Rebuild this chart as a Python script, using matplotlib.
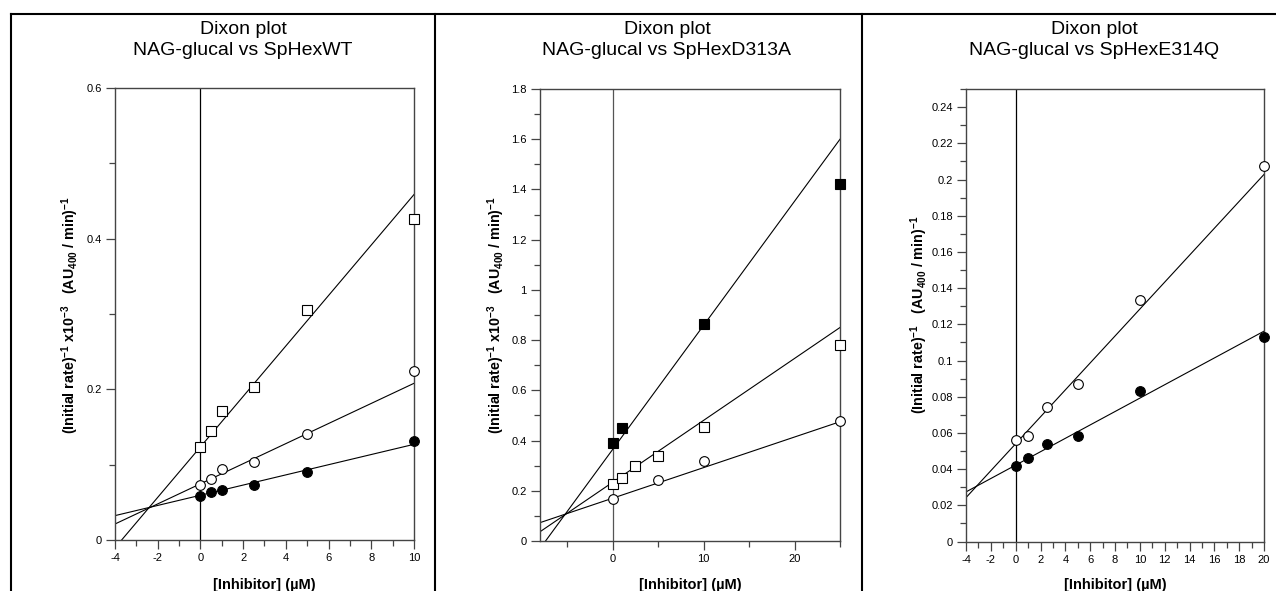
import numpy as np
import matplotlib
matplotlib.use("Agg")
import matplotlib.pyplot as plt
from matplotlib.ticker import MultipleLocator, FuncFormatter
from matplotlib.lines import Line2D

plt.rcParams['font.family'] = ['Liberation Sans', 'DejaVu Sans']
plt.rcParams['mathtext.fontset'] = 'custom'
plt.rcParams['mathtext.rm'] = 'Liberation Sans'
plt.rcParams['mathtext.bf'] = 'Liberation Sans:bold'

# --- Panel 1: SpHexWT ---
wt_x = [0, 0.5, 1, 2.5, 5, 10]
wt_sq = [0.123, 0.145, 0.171, 0.203, 0.305, 0.426]
wt_oc = [0.073, 0.081, 0.094, 0.103, 0.141, 0.225]
wt_fc = [0.059, 0.064, 0.067, 0.073, 0.090, 0.132]
wt_slope = [0.0335, 0.01334, 0.00676]
wt_icpt = [0.1236, 0.0746, 0.0594]

# --- Panel 2: SpHexD313A ---
d_x_fsq = [0, 1, 10, 25]
d_fsq = [0.391, 0.449, 0.864, 1.422]
d_x_osq = [0, 1, 2.5, 5, 10, 25]
d_osq = [0.227, 0.252, 0.300, 0.337, 0.455, 0.781]
d_x_oc = [0, 5, 10, 25]
d_oc = [0.169, 0.243, 0.318, 0.478]
d_slope = [0.0494, 0.02465, 0.01218]
d_icpt = [0.365, 0.234, 0.1705]

# --- Panel 3: SpHexE314Q ---
e_x = [0, 1, 2.5, 5, 10, 20]
e_oc = [0.056, 0.0585, 0.0745, 0.087, 0.1335, 0.2074]
e_fc = [0.0417, 0.0463, 0.0537, 0.0583, 0.0834, 0.1132]
e_slope = [0.00744, 0.0037]
e_icpt = [0.054, 0.0422]

titles = ["Dixon plot\nNAG-glucal vs SpHexWT",
          "Dixon plot\nNAG-glucal vs SpHexD313A",
          "Dixon plot\nNAG-glucal vs SpHexE314Q"]
ylab_scaled = (r"(Initial rate)$^{\mathbf{-1}}$ x10$^{\mathbf{-3}}$   "
               r"(AU$_{\mathbf{400}}$ / min)$^{\mathbf{-1}}$")
ylab_plain = r"(Initial rate)$^{\mathbf{-1}}$   (AU$_{\mathbf{400}}$ / min)$^{\mathbf{-1}}$"
xlab = "[Inhibitor] (µM)"

W, H = 1276, 591
fig = plt.figure(figsize=(W / 100, H / 100), dpi=100)


def px_axes(left, right, top, bottom):
    return fig.add_axes([left / W, 1 - bottom / H, (right - left) / W, (bottom - top) / H])


def style(ax, xlim, ylim, xmaj, xmin, ymaj, ymin, zero_color):
    ax.set_xlim(*xlim)
    ax.set_ylim(*ylim)
    ax.xaxis.set_major_locator(MultipleLocator(xmaj))
    ax.xaxis.set_minor_locator(MultipleLocator(xmin))
    ax.yaxis.set_major_locator(MultipleLocator(ymaj))
    ax.yaxis.set_minor_locator(MultipleLocator(ymin))
    fmt = FuncFormatter(lambda v, p: "%g" % round(v, 4))
    ax.xaxis.set_major_formatter(fmt)
    ax.yaxis.set_major_formatter(fmt)
    ax.tick_params(which='major', length=6.5, width=0.9, color='#444444',
                   labelsize=8, direction='out', pad=3)
    ax.tick_params(which='minor', length=4.3, width=0.9, color='#444444', direction='out')
    ax.tick_params(top=False, right=False)
    for s in ax.spines.values():
        s.set_color('#444444')
        s.set_linewidth(1.0)
    ax.axvline(0, color=zero_color, lw=0.9, zorder=1)


def fit_line(ax, slope, icpt):
    xs = np.array(ax.get_xlim())
    ax.plot(xs, slope * xs + icpt, color='black', lw=0.8, zorder=2)


mk = dict(markersize=7, markeredgecolor='black', markeredgewidth=0.8, linestyle='none',
          zorder=3, clip_on=False)

# Panel 1
ax1 = px_axes(115, 414, 88, 540)
style(ax1, (-4, 10), (0, 0.6), 2, 1, 0.2, 0.1, 'black')
for s, b in zip(wt_slope, wt_icpt):
    fit_line(ax1, s, b)
ax1.plot(wt_x, wt_sq, marker='s', markerfacecolor='white', **mk)
ax1.plot(wt_x, wt_oc, marker='o', markerfacecolor='white', **mk)
ax1.plot(wt_x, wt_fc, marker='o', markerfacecolor='black', **mk)

# Panel 2
ax2 = px_axes(540, 840, 89, 541)
style(ax2, (-8, 25), (0, 1.8), 10, 5, 0.2, 0.1, '#555555')
for s, b in zip(d_slope, d_icpt):
    fit_line(ax2, s, b)
ax2.plot(d_x_fsq, d_fsq, marker='s', markerfacecolor='black', **mk)
ax2.plot(d_x_osq, d_osq, marker='s', markerfacecolor='white', **mk)
ax2.plot(d_x_oc, d_oc, marker='o', markerfacecolor='white', **mk)

# Panel 3
ax3 = px_axes(966, 1264, 89, 541.5)
style(ax3, (-4, 20), (0, 0.25), 2, 1, 0.02, 0.01, 'black')
for s, b in zip(e_slope, e_icpt):
    fit_line(ax3, s, b)
ax3.plot(e_x, e_oc, marker='o', markerfacecolor='white', **mk)
ax3.plot(e_x, e_fc, marker='o', markerfacecolor='black', **mk)

# titles and axis labels
title_x = [243, 667, 1094]
ylab_x = [70, 496, 919]
xlab_x = [264, 690, 1115]
for i in range(3):
    fig.text(title_x[i] / W, 1 - 40 / H, titles[i], ha='center', va='center',
             fontsize=14, linespacing=1.35)
    fig.text(ylab_x[i] / W, 1 - 315 / H, ylab_scaled if i < 2 else ylab_plain,
             rotation=90, ha='center', va='center', fontsize=10.3, fontweight='bold')
    fig.text(xlab_x[i] / W, 1 - 585 / H, xlab, ha='center', va='center',
             fontsize=10.5, fontweight='bold')

# outer frame and panel dividers
frame = dict(color='black', lw=1.5, transform=fig.transFigure)
fig.lines.append(Line2D([11 / W, 1], [1 - 13.5 / H, 1 - 13.5 / H], **frame))
for xp in [11, 435, 862]:
    fig.lines.append(Line2D([xp / W, xp / W], [0, 1 - 13.5 / H], **frame))

fig.savefig("out.png", dpi=100)
